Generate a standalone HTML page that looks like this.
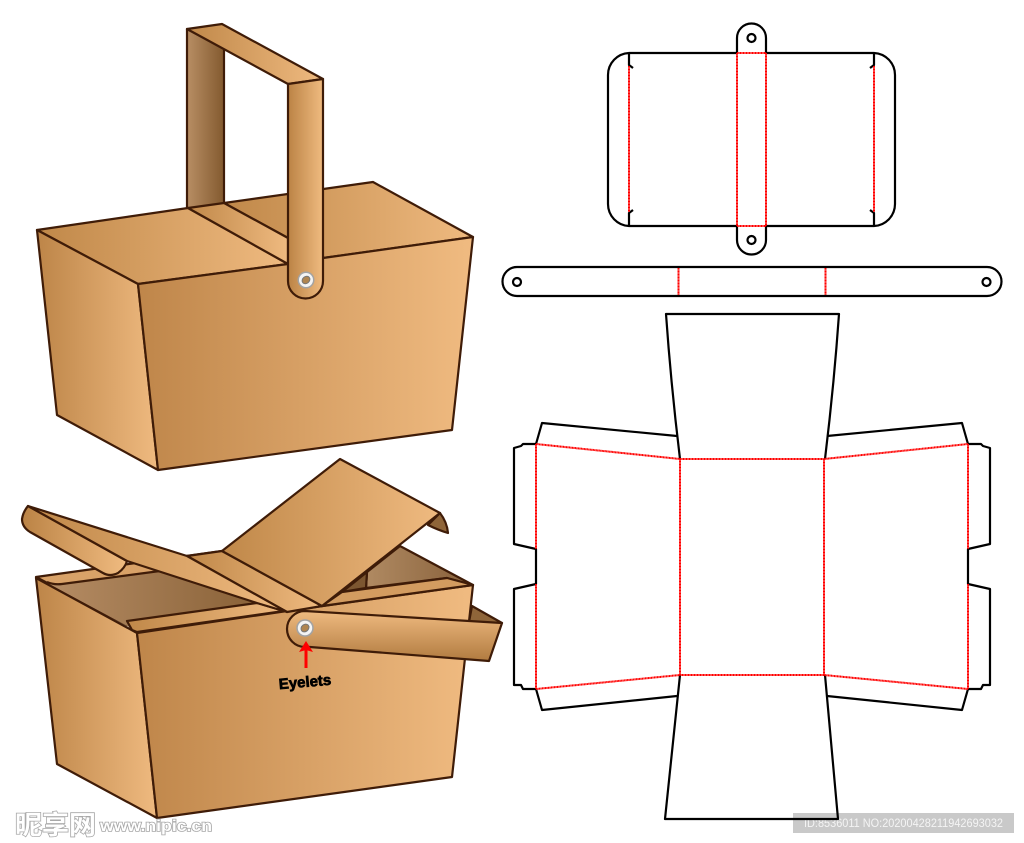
<!DOCTYPE html>
<html>
<head>
<meta charset="utf-8">
<style>
html,body{margin:0;padding:0;background:#fff}
svg{display:block}
</style>
</head>
<body>
<svg xmlns="http://www.w3.org/2000/svg" width="1024" height="843" viewBox="0 0 1024 843">
<defs>
<linearGradient id="left" x1="0" x2="1" y1="0" y2="0"><stop offset="0" stop-color="#bd8548"/><stop offset="1" stop-color="#efba80"/></linearGradient>
<linearGradient id="front" x1="0" x2="1" y1="0" y2="0"><stop offset="0" stop-color="#bf864a"/><stop offset="1" stop-color="#f0bb81"/></linearGradient>
<linearGradient id="top" x1="0" x2="1" y1="0" y2="0"><stop offset="0" stop-color="#c08849"/><stop offset="1" stop-color="#efba80"/></linearGradient>
<linearGradient id="backh" x1="0" x2="1" y1="0" y2="0"><stop offset="0" stop-color="#b88e64"/><stop offset="1" stop-color="#835a2f"/></linearGradient>
<linearGradient id="hf" x1="0" x2="1" y1="0" y2="0"><stop offset="0" stop-color="#bb8345"/><stop offset="1" stop-color="#f0bb80"/></linearGradient>
<linearGradient id="hv" x1="0" x2="0" y1="0" y2="1"><stop offset="0" stop-color="#efba80"/><stop offset="1" stop-color="#b17b40"/></linearGradient>
<linearGradient id="inner" x1="0" x2="1" y1="0" y2="0"><stop offset="0" stop-color="#b58c64"/><stop offset="1" stop-color="#8a6238"/></linearGradient>
<linearGradient id="inner2" x1="0" x2="1" y1="0" y2="0"><stop offset="0" stop-color="#b08a62"/><stop offset="1" stop-color="#87603a"/></linearGradient>
</defs>

<!-- ID banner -->
<rect x="793" y="813" width="221" height="20" fill="#c9c9c9"/>
<text x="804" y="827" font-family="'Liberation Sans',sans-serif" font-size="11.5" fill="#f4f4f4" textLength="199" lengthAdjust="spacingAndGlyphs">ID:8536011 NO:20200428211942693032</text>

<!-- TOP BOX -->
<g stroke="#3f1c08" stroke-width="2.200" stroke-linejoin="round">
  <polygon points="187,29 224,48 224,204 187,209" fill="url(#backh)"/>
  <polygon points="224,203 373,182 473,237 323,258 288,238" fill="url(#top)"/>
  <polygon points="37,230 188,208 288,264 138,284" fill="url(#top)"/>
  <polygon points="188,208 224,203 288,238 288,264" fill="url(#top)"/>
  <polygon points="37,230 138,284 158,470 57,415" fill="url(#left)"/>
  <polygon points="138,284 288,264 323,258 473,237 452,430 158,470" fill="url(#front)"/>
  <polygon points="187,29 222,24 323,79 288,84" fill="url(#top)"/>
  <path d="M288,84 L323,79 L323,281 A17.500,17.500 0 0 1 288,281 Z" fill="url(#hf)"/>
</g>
<circle cx="306" cy="280" r="8.500" fill="#a3a3a3"/>
<circle cx="306" cy="280" r="7" fill="#f4f4f4"/>
<ellipse cx="306" cy="280" rx="4.200" ry="3.400" transform="rotate(-40 306 280)" fill="#b08550" stroke="#777" stroke-width="1"/>

<!-- BOTTOM BOX -->
<g stroke="#3f1c08" stroke-width="2.200" stroke-linejoin="round">
  <!-- back rim -->
  <polygon points="36,577 222,551 300,612 127,625" fill="#d9a268"/>
  <!-- interior left -->
  <polygon points="47,583 62,584 160,571 257,603 127,622 131,628" fill="url(#inner)" stroke="none"/>
  <path d="M47,582 Q54,585 62,584 L160,571" fill="none"/>
  <!-- right interior -->
  <polygon points="400,546 473,585 447,578 366,588 367,572" fill="url(#inner2)"/>
  <polygon points="342,592 367,572 366,588" fill="#7c5630"/>
  <!-- handle back piece at right -->
  <polygon points="472,606 502,623 469,622" fill="#8f6539"/>
  <!-- left face -->
  <polygon points="36,578 137,633 157,818 57,764" fill="url(#left)"/>
  <!-- front face -->
  <polygon points="137,633 287,611 473,585 452,777 157,818" fill="url(#front)"/>
  <!-- front rim left -->
  <polygon points="127,621 257,603 284,611 137,632 132,630" fill="url(#top)"/>
  <!-- right rim -->
  <polygon points="322,606 342,592 447,578 473,585" fill="#d39c60"/>
  <!-- hinge strip -->
  <polygon points="187,556 222,551 322,606 287,612" fill="url(#top)"/>
  <!-- lid -->
  <polygon points="222,551 340,459 440,513 322,606" fill="url(#top)"/>
  <path d="M428,525 L440,513 Q447,522 448,533 Q438,530 428,525 Z" fill="#8f6539"/>
  <!-- left handle end -->
  <path d="M28,506 L127,561 Q125,568 118,573 Q110,577 103,573 L30,532 Q22,527 22,519 Q23,512 28,506 Z" fill="url(#hf)"/>
  <!-- left handle strip -->
  <polygon points="28,506 187,556 287,612 257,603 127,561" fill="url(#top)"/>
  <!-- right handle -->
  <path d="M305,611 L502,623 L489,661 L310,647 L305,647 A18,18 0 0 1 305,611 Z" fill="url(#hv)"/>
</g>
<circle cx="305" cy="628" r="8.800" fill="#a3a3a3"/>
<circle cx="305" cy="628" r="7.200" fill="#f4f4f4"/>
<ellipse cx="305" cy="628" rx="4.300" ry="3.500" transform="rotate(-40 305 628)" fill="#b08550" stroke="#777" stroke-width="1"/>
<path d="M306,668 L306,650" stroke="#f00" stroke-width="3" fill="none"/>
<polygon points="306,641 313,652 306,650 299,652" fill="#f00"/>
<text x="305" y="687" text-anchor="middle" transform="rotate(-5 305 682)" font-family="'Liberation Sans',sans-serif" font-size="15" font-weight="bold" fill="#000" stroke="#000" stroke-width="0.700">Eyelets</text>

<!-- LID / HANDLE DIELINE -->
<g fill="none" stroke="#000" stroke-width="2.200" stroke-linejoin="round">
  <path d="M629,53 L737,53 M766,53 L874,53 A22,22 0 0 1 895,75 L895,204 A22,22 0 0 1 874,226 L766,226 M737,226 L629,226 A22,22 0 0 1 608,204 L608,75 A22,22 0 0 1 629,53"/>
  <path d="M737,53 L737,38 A14.500,14.500 0 0 1 766,38 L766,53"/>
  <path d="M737,226 L737,240 A14.500,14.500 0 0 0 766,240 L766,226"/>
  <circle cx="751.500" cy="38" r="4"/>
  <circle cx="751.500" cy="240" r="4"/>
  <path d="M629,53 L629,65 L633,68 M629,226 L629,213 L633,210 M874,53 L874,65 L870,68 M874,226 L874,213 L870,210"/>
  <rect x="502.500" y="267" width="499" height="29" rx="14.500" ry="14.500"/>
  <circle cx="517" cy="282" r="4"/>
  <circle cx="986.500" cy="282" r="4"/>
</g>
<g fill="none" stroke="#f00" stroke-width="2" stroke-dasharray="1.200 0.300">
  <path d="M629,66 L629,212 M874,66 L874,212"/>
  <path d="M737,53 L737,226 M766,53 L766,226 M737,53 L766,53 M737,226 L766,226"/>
  <path d="M678.500,268 L678.500,295 M825.500,268 L825.500,295"/>
</g>

<!-- BOX DIELINE -->
<g fill="none" stroke="#000" stroke-width="2.200" stroke-linejoin="round">
  <path d="M680,459 Q671,385 666,314 L839,314 Q834,385 825,459"/>
  <path d="M680,675 Q672,750 665,819 L838,819 Q832,750 825,675"/>
  <path d="M677,436 L542,423 L536,444 L523,444 L521,446 L514,448 L514,544 L536,549 L536,584 L514,589 L514,685 L521,685 L523,689 L536,689 L542,710 L677,696"/>
  <path d="M827,436 L962,423 L968,444 L981,444 L983,446 L990,448 L990,544 L968,549 L968,584 L990,589 L990,685 L983,685 L981,689 L968,689 L962,710 L827,696"/>
</g>
<g fill="none" stroke="#f00" stroke-width="2" stroke-dasharray="1.200 0.300">
  <path d="M680,459 L824,459 L824,675 L680,675 Z"/>
  <path d="M536,444 L680,459 M536,689 L680,675 M536,444 L536,549 M536,584 L536,689"/>
  <path d="M968,444 L824,459 M968,689 L824,675 M968,444 L968,549 M968,584 L968,689"/>
</g>

<!-- WATERMARK -->
<g font-weight="bold" fill="#fff" stroke="#a8a8a8" stroke-width="1.600" style="paint-order:stroke">
  <text x="15" y="834" font-family="'Liberation Sans','Noto Sans CJK SC',sans-serif" font-size="26" textLength="81" lengthAdjust="spacingAndGlyphs">昵享网</text>
  <text x="100" y="831" font-family="'Liberation Sans',sans-serif" font-size="16" textLength="112" lengthAdjust="spacingAndGlyphs">www.nipic.cn</text>
</g>
</svg>
</body>
</html>
